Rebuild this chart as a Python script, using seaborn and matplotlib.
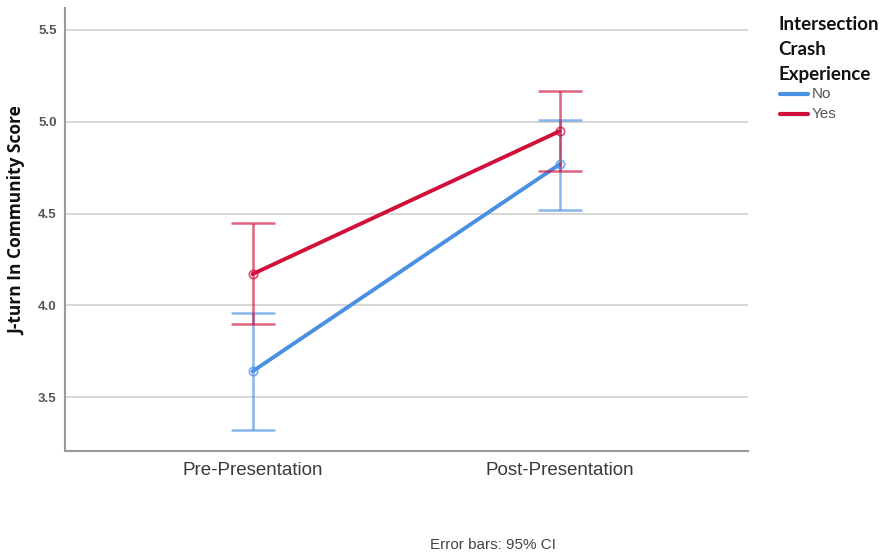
import matplotlib
matplotlib.use("Agg")
import matplotlib.pyplot as plt
import seaborn as sns
import pandas as pd
import numpy as np

# Estimated marginal means with 95% confidence intervals
phases = ["Pre-Presentation", "Post-Presentation"]
groups = ["No", "Yes"]
mean_no = [3.64, 4.77]
lower_no = [3.32, 4.52]
upper_no = [3.96, 5.01]
mean_yes = [4.17, 4.95]
lower_yes = [3.90, 4.73]
upper_yes = [4.45, 5.17]

colors = {"No": "#4a90e2", "Yes": "#d0103a"}

df = pd.DataFrame({
    "Phase": phases * 2,
    "Crash": ["No"] * 2 + ["Yes"] * 2,
    "Score": mean_no + mean_yes,
    "Low": lower_no + lower_yes,
    "High": upper_no + upper_yes,
})

sns.set_style("white")
plt.rcParams["font.family"] = ["Liberation Sans", "DejaVu Sans"]
fig = plt.figure(figsize=(8.85, 5.54), dpi=100)
ax = fig.add_axes([0.0734, 0.186, 0.7716, 0.7996])

ax.yaxis.grid(True, color="#d4d4d4", linewidth=1.3)
ax.set_axisbelow(True)

sns.pointplot(data=df, x="Phase", y="Score", hue="Crash", order=phases,
              hue_order=groups, palette=colors, errorbar=None, dodge=False,
              markers="o", linestyles="-", ax=ax, legend=False,
              markersize=0, linewidth=2.8)

for g in groups:
    sub = df[df["Crash"] == g].set_index("Phase").loc[phases]
    xs = np.arange(len(phases))
    y = sub["Score"].to_numpy()
    err = np.vstack([y - sub["Low"].to_numpy(), sub["High"].to_numpy() - y])
    ax.errorbar(xs, y, yerr=err, fmt="none", ecolor=colors[g], alpha=0.65,
                elinewidth=1.8, capsize=16, capthick=1.8, zorder=3)
    ax.plot(xs, y, linestyle="none", marker="o", markersize=6,
            markerfacecolor="none", markeredgecolor=colors[g],
            markeredgewidth=1.3, alpha=0.7, zorder=4)

ax.set_xlim(-0.61, 1.61)
ax.set_ylim(3.206, 5.62)
ax.set_yticks([3.5, 4.0, 4.5, 5.0, 5.5])
ax.set_yticklabels(["3.5", "4.0", "4.5", "5.0", "5.5"])
ax.tick_params(axis="y", length=0, labelsize=9.5, labelcolor="#555555", pad=6)
ax.tick_params(axis="x", length=0, labelsize=13.5, labelcolor="#3a3a3a", pad=8)
for lbl in ax.get_yticklabels():
    lbl.set_fontweight("bold")
ax.set_xlabel("")
ax.set_ylabel("J-turn In Community Score", fontsize=12.5, fontweight="bold",
              color="#111111", family=["Open Sans", "DejaVu Sans"])
ax.yaxis.set_label_coords(-0.057, 0.52)

for s in ["top", "right"]:
    ax.spines[s].set_visible(False)
for s in ["left", "bottom"]:
    ax.spines[s].set_color("#9a9a9a")
    ax.spines[s].set_linewidth(1.5)

# Legend
fig.text(778 / 885, 0.972, "Intersection\nCrash\nExperience", fontsize=13.5,
         fontweight="bold", color="#111111", va="top", ha="left",
         linespacing=1.6, family=["Lato", "DejaVu Sans"])
for i, g in enumerate(groups):
    yf = 1 - (94 + 20 * i) / 554
    fig.add_artist(plt.Line2D([780 / 885, 808 / 885], [yf, yf],
                              color=colors[g], linewidth=3))
    fig.text(812 / 885, yf, g, fontsize=11, color="#555555",
             va="center", ha="left")

fig.text(493 / 885, 1 - 545 / 554, "Error bars: 95% CI", fontsize=11,
         color="#444444", ha="center", va="center")

fig.savefig("out.png", dpi=100)
